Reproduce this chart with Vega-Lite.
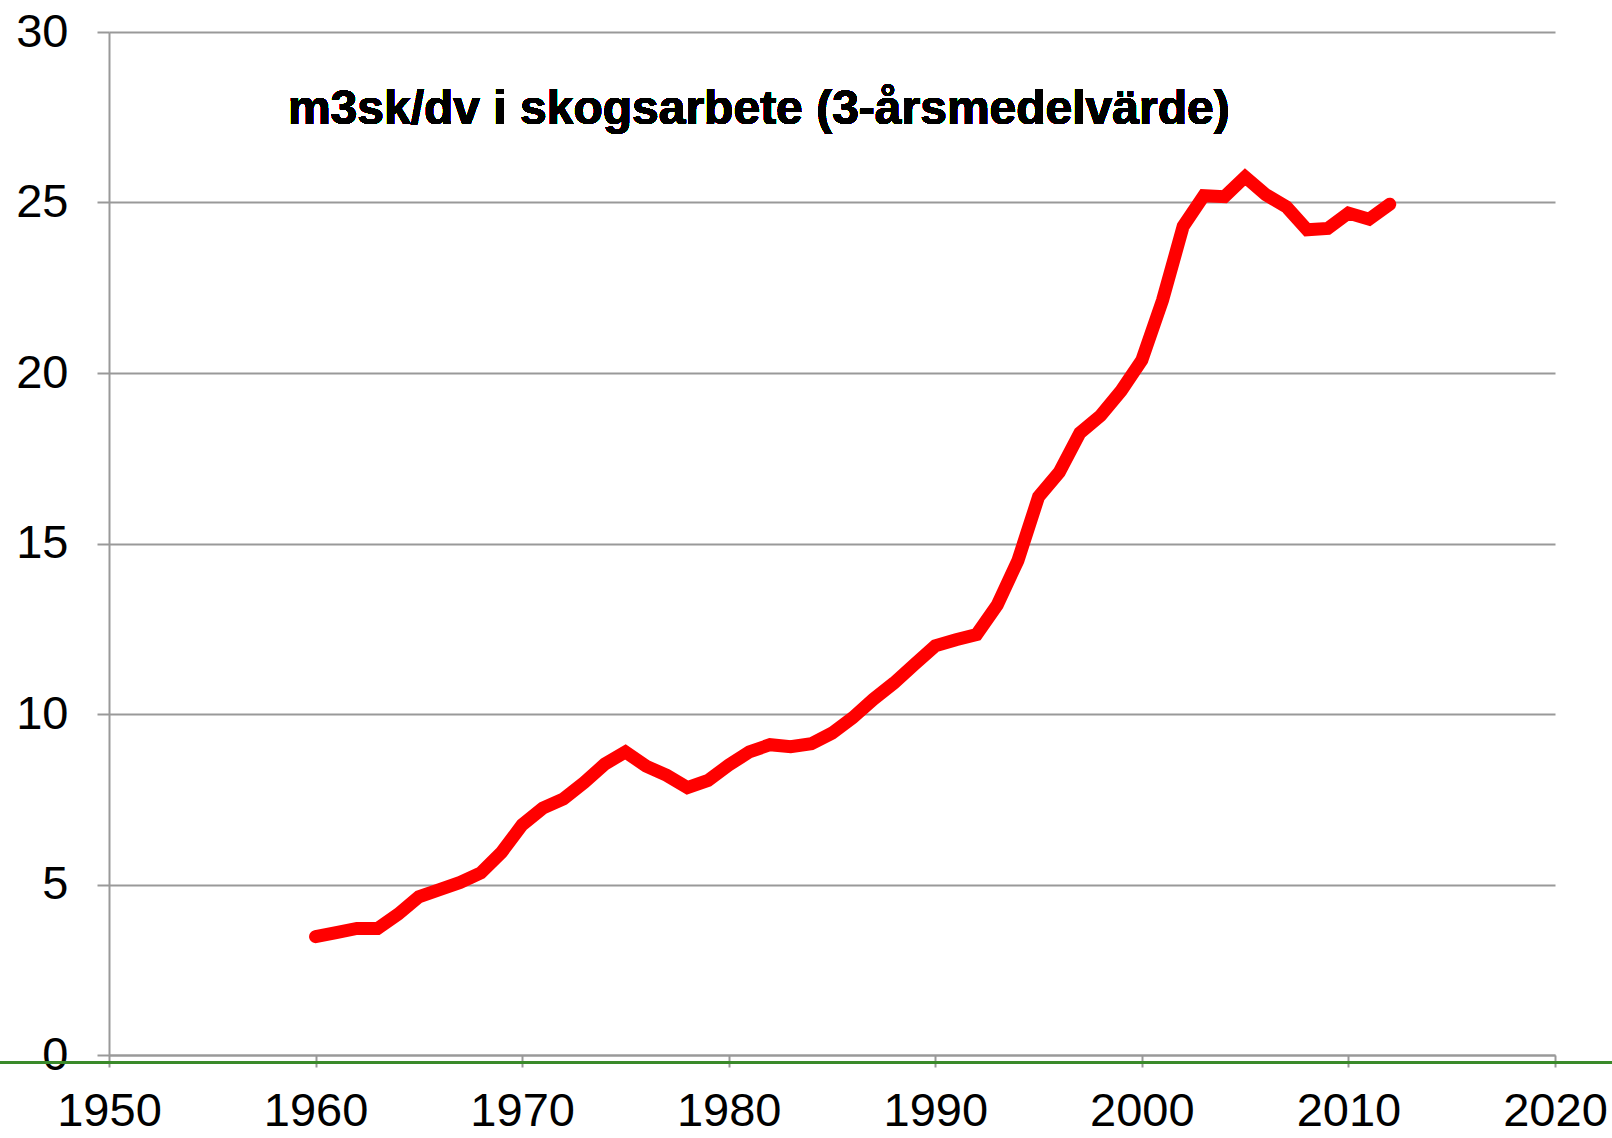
{
  "$schema": "https://vega.github.io/schema/vega-lite/v6.json",
  "width": 1446,
  "height": 1023,
  "autosize": {"type": "none"},
  "padding": {"left": 109, "top": 32, "right": 57, "bottom": 83},
  "background": "white",
  "config": {
    "view": {"stroke": null},
    "font": "Liberation Sans"
  },
  "data": {
    "values": [
      {"year": 1960, "value": 3.47},
      {"year": 1961, "value": 3.59},
      {"year": 1962, "value": 3.71},
      {"year": 1963, "value": 3.71},
      {"year": 1964, "value": 4.13},
      {"year": 1965, "value": 4.64},
      {"year": 1966, "value": 4.85},
      {"year": 1967, "value": 5.06},
      {"year": 1968, "value": 5.34},
      {"year": 1969, "value": 5.94},
      {"year": 1970, "value": 6.75},
      {"year": 1971, "value": 7.24},
      {"year": 1972, "value": 7.51},
      {"year": 1973, "value": 7.99},
      {"year": 1974, "value": 8.53},
      {"year": 1975, "value": 8.89},
      {"year": 1976, "value": 8.47},
      {"year": 1977, "value": 8.2},
      {"year": 1978, "value": 7.84},
      {"year": 1979, "value": 8.05},
      {"year": 1980, "value": 8.5},
      {"year": 1981, "value": 8.89},
      {"year": 1982, "value": 9.1},
      {"year": 1983, "value": 9.04},
      {"year": 1984, "value": 9.13},
      {"year": 1985, "value": 9.44},
      {"year": 1986, "value": 9.89},
      {"year": 1987, "value": 10.43},
      {"year": 1988, "value": 10.91},
      {"year": 1989, "value": 11.46},
      {"year": 1990, "value": 12.0},
      {"year": 1991, "value": 12.18},
      {"year": 1992, "value": 12.33},
      {"year": 1993, "value": 13.2},
      {"year": 1994, "value": 14.5},
      {"year": 1995, "value": 16.37},
      {"year": 1996, "value": 17.09},
      {"year": 1997, "value": 18.24},
      {"year": 1998, "value": 18.75},
      {"year": 1999, "value": 19.48},
      {"year": 2000, "value": 20.38},
      {"year": 2001, "value": 22.13},
      {"year": 2002, "value": 24.3},
      {"year": 2003, "value": 25.2},
      {"year": 2004, "value": 25.17},
      {"year": 2005, "value": 25.75},
      {"year": 2006, "value": 25.23},
      {"year": 2007, "value": 24.87},
      {"year": 2008, "value": 24.2},
      {"year": 2009, "value": 24.24},
      {"year": 2010, "value": 24.69},
      {"year": 2011, "value": 24.51},
      {"year": 2012, "value": 24.95}
    ]
  },
  "layer": [
    {
      "mark": {"type": "rule", "color": "#3a8a2a", "strokeWidth": 2, "clip": false},
      "encoding": {
        "x": {"datum": 1944.7, "type": "quantitative"},
        "x2": {"datum": 2022.8},
        "y": {"datum": -0.22, "type": "quantitative"}
      }
    },
    {
      "mark": {"type": "line", "color": "#ff0000", "strokeWidth": 13, "strokeCap": "round", "strokeJoin": "miter"},
      "encoding": {
        "x": {
          "field": "year",
          "type": "quantitative",
          "scale": {"domain": [1950, 2020], "nice": false, "zero": false},
          "axis": {
            "title": null,
            "values": [1950, 1960, 1970, 1980, 1990, 2000, 2010, 2020],
            "format": "d",
            "grid": false,
            "domainColor": "#999999",
            "domainWidth": 2,
            "tickColor": "#999999",
            "tickWidth": 2,
            "tickSize": 12,
            "labelFontSize": 47,
            "labelColor": "#000000",
            "labelPadding": 21,
            "labelFont": "Liberation Sans",
            "labelFlush": false
          }
        },
        "y": {
          "field": "value",
          "type": "quantitative",
          "scale": {"domain": [0, 30], "nice": false},
          "axis": {
            "title": null,
            "values": [0, 5, 10, 15, 20, 25, 30],
            "grid": true,
            "gridColor": "#999999",
            "gridWidth": 2,
            "domainColor": "#999999",
            "domainWidth": 2,
            "tickColor": "#999999",
            "tickWidth": 2,
            "tickSize": 12,
            "labelFontSize": 47,
            "labelColor": "#000000",
            "labelPadding": 29,
            "labelFont": "Liberation Sans"
          }
        }
      }
    },
    {
      "mark": {"type": "text", "align": "left", "baseline": "alphabetic", "fontSize": 48, "fontWeight": "bold", "font": "Liberation Sans", "color": "#000000"},
      "encoding": {
        "x": {"datum": 1958.66, "type": "quantitative"},
        "y": {"datum": 27.3, "type": "quantitative"},
        "text": {"value": "m3sk/dv i skogsarbete (3-årsmedelvärde)"}
      }
    }
  ]
}
